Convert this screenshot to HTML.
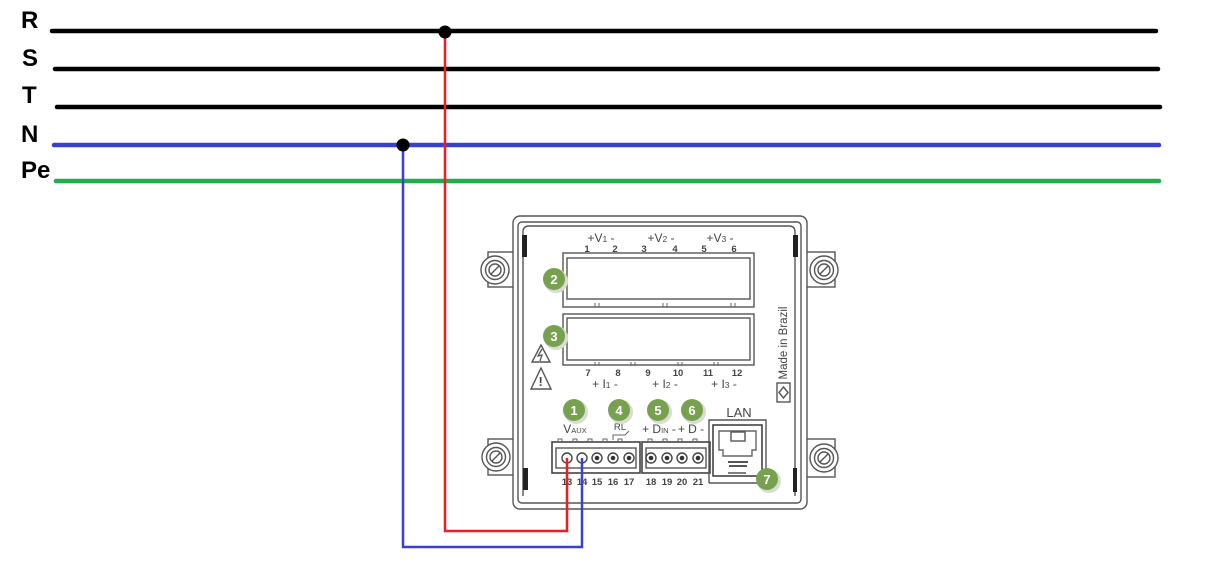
<!DOCTYPE html>
<html><head><meta charset="utf-8"><style>
html,body{margin:0;padding:0;background:#fff;}
svg{display:block;}
.lbl{font-family:"Liberation Sans",sans-serif;font-weight:bold;font-size:24px;fill:#000;}
.dt{font-family:"Liberation Sans",sans-serif;fill:#444;}
.bd{font-family:"Liberation Sans",sans-serif;font-weight:bold;font-size:13px;fill:#fff;}
</style></head><body>
<svg width="1211" height="573" viewBox="0 0 1211 573" xmlns="http://www.w3.org/2000/svg">
<!-- labels -->
<text class="lbl" x="21" y="28">R</text>
<text class="lbl" x="22" y="66">S</text>
<text class="lbl" x="22" y="103">T</text>
<text class="lbl" x="21" y="142">N</text>
<text class="lbl" x="21" y="178">Pe</text>

<!-- bus lines -->
<g stroke-linecap="round" stroke-width="4.5">
<line x1="52" y1="31" x2="1156" y2="31" stroke="#000"/>
<line x1="55" y1="69" x2="1158" y2="69" stroke="#000"/>
<line x1="57" y1="107" x2="1160" y2="107" stroke="#000"/>
<line x1="54" y1="145" x2="1159" y2="145" stroke="#3a40d0"/>
<line x1="56" y1="181" x2="1159" y2="181" stroke="#1eaf4a"/>
</g>

<!-- device -->
<g fill="none" stroke="#555" stroke-width="1.4">
<!-- ears -->
<g fill="#fff">
<rect x="488" y="252" width="30" height="35"/>
<rect x="488" y="439" width="30" height="36"/>
<rect x="803" y="252" width="32" height="35"/>
<rect x="803" y="439" width="32" height="38"/>
</g>
<rect x="513" y="216" width="294" height="293" rx="7" fill="#fff"/>
<rect x="518" y="222" width="283" height="281" rx="4"/>
<path d="M523 496 V232 Q523 226 529 226 H789 Q795 226 795 232 V496"/>
<!-- screws -->
<g fill="#fff">
<circle cx="495" cy="270" r="14"/><circle cx="495" cy="270" r="9.5"/><circle cx="495" cy="270" r="6"/>
<circle cx="496" cy="457" r="14"/><circle cx="496" cy="457" r="9.5"/><circle cx="496" cy="457" r="6"/>
<circle cx="824" cy="270" r="14"/><circle cx="824" cy="270" r="9.5"/><circle cx="824" cy="270" r="6"/>
<circle cx="824" cy="458" r="14"/><circle cx="824" cy="458" r="9.5"/><circle cx="824" cy="458" r="6"/>
</g>
<line x1="491" y1="274" x2="499" y2="266"/><line x1="492" y1="461" x2="500" y2="453"/>
<line x1="820" y1="274" x2="828" y2="266"/><line x1="820" y1="462" x2="828" y2="454"/>
<!-- terminal blocks -->
<rect x="563" y="253" width="191" height="54"/>
<rect x="567" y="258" width="183" height="41"/>
<rect x="563" y="314" width="191" height="51"/>
<rect x="567" y="318" width="183" height="42"/>
<!-- connectors -->
<rect x="552" y="442" width="88" height="31" stroke="#444" stroke-width="1.6"/>
<rect x="556" y="448" width="80" height="20"/>
<rect x="642" y="442" width="68" height="31" stroke="#444" stroke-width="1.6"/>
<rect x="646" y="448" width="60" height="20"/>
<!-- LAN -->
<path d="M709 483 V420 H766 V470 M709 483 H758" stroke="#555"/>
<rect x="713" y="425" width="49" height="51" stroke="#444" stroke-width="1.6"/>
<path d="M719 431 H756 V450 H752 V456 H723 V450 H719 Z" stroke="#666"/>
<rect x="731" y="432" width="14" height="9"/>
<path d="M728 462 H748 M729 466 H747" stroke="#555" stroke-width="2"/>
<path d="M728 473 H746"/>
<!-- symbol box -->
<rect x="777" y="383" width="13" height="19"/>
<path d="M783.5 387 L788 392.5 L783.5 398 L779 392.5 Z"/>
<!-- warning triangles -->
<path d="M541 345 L550 362 H532 Z"/>
<path d="M541 368 L551 389 H531 Z"/>
</g>
<!-- dark bars -->
<g fill="#222">
<rect x="522" y="235" width="5" height="22"/>
<rect x="523" y="468" width="5" height="22"/>
<rect x="793" y="235" width="5" height="22"/>
<rect x="793" y="468" width="4" height="24"/>
</g>
<!-- ticks -->
<g fill="none" stroke="#666" stroke-width="1">
<path d="M595 303 v4 M599 303 v4 M663 303 v4 M667 303 v4 M731 303 v4 M735 303 v4"/>
<path d="M595 362 v4 M599 362 v4 M631 362 v4 M635 362 v4 M678 362 v4 M682 362 v4 M714 362 v4 M718 362 v4"/>
<path d="M558 442 v-3 h4 v3 M573 442 v-3 h4 v3 M588 442 v-3 h4 v3 M603 442 v-3 h4 v3 M618 442 v-3 h4 v3 M648 442 v-3 h4 v3 M663 442 v-3 h4 v3 M678 442 v-3 h4 v3 M693 442 v-3 h4 v3"/>
<path d="M613 440 v-5 h12 l4 -4"/>
</g>
<!-- lightning -->
<path d="M542 349 L538 356 L542 355 L540 361" fill="none" stroke="#555" stroke-width="1.3"/>
<text class="dt" x="538.5" y="386" font-size="13" font-weight="bold">!</text>
<!-- terminal holes -->
<g fill="#fff" stroke="#444" stroke-width="1.4">
<circle cx="567" cy="458" r="5"/><circle cx="582" cy="458" r="5"/><circle cx="597" cy="458" r="5"/><circle cx="613" cy="458" r="5"/><circle cx="629" cy="458" r="5"/>
<circle cx="651" cy="458" r="5"/><circle cx="667" cy="458" r="5"/><circle cx="682" cy="458" r="5"/><circle cx="698" cy="458" r="5"/>
</g>
<g fill="#333">
<circle cx="597" cy="458" r="2.3"/><circle cx="613" cy="458" r="2.3"/><circle cx="629" cy="458" r="2.3"/>
<circle cx="651" cy="458" r="2.3"/><circle cx="667" cy="458" r="2.3"/><circle cx="682" cy="458" r="2.3"/><circle cx="698" cy="458" r="2.3"/>
</g>

<!-- device texts -->
<g class="dt" font-size="12" text-anchor="middle">
<text x="601" y="242">+V<tspan font-size="8.5">1</tspan> -</text>
<text x="661" y="242">+V<tspan font-size="8.5">2</tspan> -</text>
<text x="720" y="242">+V<tspan font-size="8.5">3</tspan> -</text>
<text x="605" y="388">+ I<tspan font-size="8.5">1</tspan> -</text>
<text x="665" y="388">+ I<tspan font-size="8.5">2</tspan> -</text>
<text x="724" y="388">+ I<tspan font-size="8.5">3</tspan> -</text>
<text x="575" y="433">V<tspan font-size="7.5">AUX</tspan></text>
<text x="620" y="430" font-size="9.5">RL</text>
<text x="659" y="433">+ D<tspan font-size="7.5">IN</tspan> -</text>
<text x="691" y="433">+ D -</text>
<text x="739" y="417" font-size="13">LAN</text>
</g>
<g class="dt" font-size="9.5" font-weight="bold" text-anchor="middle">
<text x="587" y="252">1</text><text x="615" y="252">2</text><text x="644" y="252">3</text><text x="675" y="252">4</text><text x="704" y="252">5</text><text x="734" y="252">6</text>
<text x="588" y="376">7</text><text x="618" y="376">8</text><text x="648" y="376">9</text><text x="678" y="376">10</text><text x="708" y="376">11</text><text x="737" y="376">12</text>
<text x="567" y="485">13</text><text x="582" y="485">14</text><text x="597" y="485">15</text><text x="613" y="485">16</text><text x="629" y="485">17</text>
<text x="651" y="485">18</text><text x="667" y="485">19</text><text x="682" y="485">20</text><text x="698" y="485">21</text>
</g>
<text class="dt" font-size="11.5" text-anchor="middle" transform="translate(787 343) rotate(-90)">Made in Brazil</text>

<!-- badges -->
<g fill="#d8dcd2">
<circle cx="556" cy="281" r="12"/><circle cx="556" cy="338" r="12"/><circle cx="576" cy="412" r="12"/><circle cx="621" cy="412" r="12"/><circle cx="660" cy="412" r="12"/><circle cx="694" cy="412" r="12"/><circle cx="769" cy="481" r="12"/>
</g>
<g fill="#78a14f">
<circle cx="554" cy="279" r="11"/><circle cx="554" cy="336" r="11"/><circle cx="574" cy="410" r="11"/><circle cx="619" cy="410" r="11"/><circle cx="658" cy="410" r="11"/><circle cx="692" cy="410" r="11"/><circle cx="767" cy="479" r="11"/>
</g>
<g class="bd" text-anchor="middle">
<text x="554" y="284">2</text><text x="554" y="341">3</text><text x="574" y="415">1</text><text x="619" y="415">4</text><text x="658" y="415">5</text><text x="692" y="415">6</text><text x="767" y="484">7</text>
</g>

<!-- wires -->
<polyline points="403,145 403,547 582,547 582,458" fill="none" stroke="#3a40d0" stroke-width="2.5"/>
<polyline points="445,31 445,531 567,531 567,458" fill="none" stroke="#ee1c24" stroke-width="2.5"/>
<circle cx="445" cy="32" r="6.5" fill="#000"/>
<circle cx="403" cy="145" r="6.5" fill="#000"/>
</svg>
</body></html>
